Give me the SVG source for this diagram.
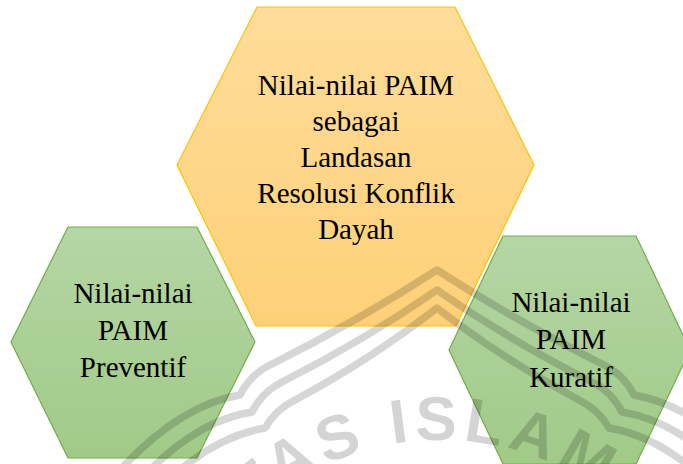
<svg xmlns="http://www.w3.org/2000/svg" width="683" height="464" viewBox="0 0 683 464">
  <defs>
    <linearGradient id="gOrange" x1="0" y1="0" x2="0" y2="1">
      <stop offset="0" stop-color="#FEDC9A"/>
      <stop offset="1" stop-color="#FED178"/>
    </linearGradient>
    <linearGradient id="gGreen" x1="0" y1="0" x2="0" y2="1">
      <stop offset="0" stop-color="#B5D6A5"/>
      <stop offset="1" stop-color="#A1CA88"/>
    </linearGradient>
  </defs>
  <style>
    .orange { fill: url(#gOrange); stroke: #FFC000; stroke-width: 1.2; }
    .green { fill: url(#gGreen); stroke: #70AD47; stroke-width: 1.2; }
    .lbl { font-family: "Liberation Serif", "Times New Roman", serif; font-size: 29px; fill: #000; text-anchor: middle; }
    .wm { fill: none; stroke: #000; stroke-opacity: 0.16; stroke-width: 7.5; stroke-linejoin: round; stroke-linecap: butt; }
    .wmtext { font-family: "Liberation Sans", Arial, sans-serif; font-size: 62px; font-weight: bold; fill: #000; fill-opacity: 0.17; letter-spacing: 6px; }
  </style>
  <rect width="683" height="464" fill="#FFFFFF"/>

  <g id="node-center">
    <polygon class="orange" points="257,7 455,7 534,165 456,326 256,326 177,165"/>
    <text class="lbl" x="356" y="95">Nilai-nilai PAIM</text>
    <text class="lbl" x="356" y="131">sebagai</text>
    <text class="lbl" x="356" y="167">Landasan</text>
    <text class="lbl" x="356" y="203">Resolusi Konflik</text>
    <text class="lbl" x="356" y="239">Dayah</text>
  </g>

  <g id="node-preventif">
    <polygon class="green" points="68,227 197,227 255,342 197,458 68,458 11,342"/>
    <text class="lbl" x="133" y="303">Nilai-nilai</text>
    <text class="lbl" x="133" y="340">PAIM</text>
    <text class="lbl" x="133" y="377">Preventif</text>
  </g>

  <g id="node-kuratif">
    <polygon class="green" points="503,236 636,236 690,350 636,464 503,464 449,350"/>
    <text class="lbl" x="571" y="312">Nilai-nilai</text>
    <text class="lbl" x="571" y="349">PAIM</text>
    <text class="lbl" x="571" y="387">Kuratif</text>
  </g>

  <g id="watermark">
    <path class="wm" d="M 120 470 Q 180 405 240 395 Q 250 375 270 365 Q 360 320 437 270 Q 514 320 604 365 Q 624 375 634 395 Q 694 405 754 470"/>
    <path class="wm" d="M 150 470 Q 200 420 252 412 Q 262 392 282 382 Q 365 340 437 290 Q 509 340 592 382 Q 612 392 622 412 Q 674 420 724 470"/>
    <path class="wm" d="M 180 470 Q 222 435 265 428 Q 275 410 295 400 Q 370 360 437 308 Q 504 360 579 400 Q 599 410 609 428 Q 652 435 694 470"/>
    <path id="wmArc" d="M 162 718 A 278 278 0 0 1 718 718" fill="none"/>
    <text class="wmtext"><textPath href="#wmArc" startOffset="228">TAS ISLAM</textPath></text>
  </g>
</svg>
